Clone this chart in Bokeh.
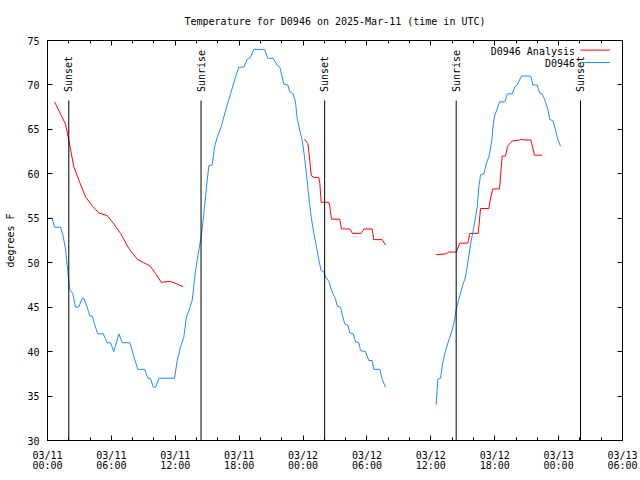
import numpy as np
import pandas as pd
from math import pi
from bokeh.plotting import figure
from bokeh.models import (Range1d, LinearAxis, FixedTicker, DatetimeTickFormatter)
from bokeh.core.properties import value
from bokeh.embed import file_html
from bokeh.resources import INLINE

# ---------------- data (hours after 2025-03-11 00:00 UTC, degrees F) ----------------
BASE = "2025-03-11 00:00"
X_START_H, X_END_H = 0, 54
Y_MIN, Y_MAX = 30, 75

obs_hours_1 = [0.0, 0.44, 0.66, 1.22, 1.47, 1.69, 1.91, 2.09, 2.38, 2.63, 2.94, 3.26, 3.41,
               3.73, 3.97, 4.20, 4.44, 4.72, 5.23, 5.61, 5.92, 6.23, 6.70, 7.02, 7.73, 8.10,
               8.48, 9.14, 9.42, 9.67, 9.93, 10.17, 10.45, 11.93, 12.18, 12.49, 12.80, 13.05,
               13.34, 13.59, 13.90, 14.21, 14.43, 14.68, 14.93, 15.15, 15.47, 15.68, 15.94,
               16.31, 16.72, 17.19, 17.66, 17.97, 18.44, 18.76, 19.06, 19.37, 20.38, 20.69,
               21.20, 21.57, 21.82, 22.19, 22.57, 22.76, 23.07, 23.29, 23.45, 23.69, 23.92,
               24.14, 24.32, 24.54, 24.77, 25.01, 25.26, 25.48, 25.70, 25.95, 26.11, 26.42,
               26.74, 27.05, 27.21, 27.52, 27.73, 27.92, 28.20, 28.39, 28.71, 28.93, 29.24,
               29.40, 29.87, 30.17, 30.49, 30.64, 31.21, 31.43, 31.74]
obs_temp_1 = [55, 55, 54, 54, 53, 51.5, 49, 47, 46.5, 45, 45, 46, 46,
              45, 44, 44, 43, 42, 42, 41, 41, 40, 42, 41, 41, 39.5,
              38, 38, 37, 37, 36, 36, 37, 37, 39, 40.5, 41.6, 43.9,
              44.8, 45.8, 49.1, 51.4, 52.9, 55.5, 58.5, 60.9, 61, 63, 64.1,
              65.3, 67.1, 69, 70.9, 72, 72, 72.9, 73.1, 74, 74, 73,
              73, 72.2, 72, 70.1, 70, 69.2, 69, 68.1, 66.2, 64.9, 63.8,
              61.9, 60, 57.4, 55.1, 53.3, 51.8, 50.3, 49.1, 49, 48.4, 47.9,
              46.7, 45.9, 45.1, 45, 43.9, 43.1, 43, 42.1, 42, 41.1, 41,
              40.1, 40, 39, 39, 38, 38, 36.9, 36]
obs_hours_2 = [36.50, 36.65, 36.91, 37.12, 37.38, 37.69, 38.01, 38.25, 38.38, 38.63, 38.95,
               39.26, 39.51, 39.73, 40.04, 40.36, 40.51, 40.67, 40.98, 41.20, 41.45, 41.60,
               41.76, 41.86, 42.01, 42.23, 42.45, 42.95, 43.17, 43.64, 43.89, 44.11, 44.52,
               45.39, 45.58, 45.99, 46.21, 46.46, 46.77, 47.02, 47.17, 47.46, 47.71, 47.92,
               48.18]
obs_temp_2 = [34, 36.9, 37, 38.8, 40.1, 41.3, 42.4, 43.7, 44.8, 45.9, 47.3,
              48.4, 50.3, 52.1, 54, 56.3, 58.5, 59.9, 60, 61.1, 61.9, 62.8,
              64.1, 65.6, 66.6, 67.3, 68.1, 68.1, 69, 69, 69.8, 70, 71,
              71, 70, 70, 69.1, 69, 68.1, 67.1, 66.1, 66, 64.9, 63.9,
              63.1]

ana_hours_1 = [0.66, 1.69, 2.00, 2.47, 2.94, 3.57, 4.20, 4.82, 5.61, 6.08, 6.86, 7.64,
               8.42, 9.04, 9.67, 10.14, 10.68, 11.55, 12.18, 12.74]
ana_temp_1 = [68.1, 65.6, 63.8, 60.8, 59.3, 57.4, 56.4, 55.6, 55.3, 54.6, 53.3, 51.6,
              50.4, 50.0, 49.6, 48.8, 47.8, 47.9, 47.6, 47.3]
ana_hours_2 = [24.14, 24.45, 24.54, 24.63, 24.77, 25.01, 25.48, 25.58, 25.70, 26.42, 26.51,
               26.67, 27.45, 27.61, 28.39, 28.64, 29.46, 29.71, 30.49, 30.64, 31.43, 31.74]
ana_temp_2 = [63.9, 63.4, 62.6, 61.5, 59.8, 59.6, 59.6, 58.9, 56.8, 56.8, 56.3,
              54.9, 54.9, 53.8, 53.8, 53.3, 53.3, 53.8, 53.8, 52.6, 52.6, 52.0]
ana_hours_3 = [36.50, 37.44, 37.69, 38.38, 38.72, 39.47, 39.66, 40.45, 40.67, 41.45, 41.60,
               41.82, 42.45, 42.70, 43.01, 43.20, 43.64, 44.33, 44.52, 44.73, 45.39, 45.58,
               45.72, 46.46]
ana_temp_3 = [50.9, 51.0, 51.2, 51.2, 52.2, 52.2, 53.3, 53.3, 56.1, 56.1, 57.2,
              58.3, 58.3, 62.0, 62.0, 63.1, 63.7, 63.8, 63.9, 63.8, 63.8, 62.9,
              62.1, 62.1]

sun_hours = [2.00, 14.42, 26.03, 38.38, 50.06]
sun_labels = ["Sunset", "Sunrise", "Sunset", "Sunrise", "Sunset"]

y_ticks = [30, 35, 40, 45, 50, 55, 60, 65, 70, 75]
x_major_step_h = 6
x_minor_step_h = 2

series_names = ["D0946 Analysis", "D0946"]
series_colors = ["#ff0000", "#1e8cff"]

TITLE = "Temperature for D0946 on 2025-Mar-11 (time in UTC)"
FONT = "DejaVu Sans Mono"

# ---------------- helpers ----------------
base_ms = pd.Timestamp(BASE).value / 1e6
H = 3600000.0


def ms(hours):
    return [base_ms + h * H for h in hours]


def join(*segs):
    xs, ys = [], []
    for i in range(0, len(segs), 2):
        if xs:
            xs.append(np.nan)
            ys.append(np.nan)
        xs += ms(segs[i])
        ys += list(segs[i + 1])
    return np.array(xs, dtype=float), np.array(ys, dtype=float)


obs_x, obs_y = join(obs_hours_1, obs_temp_1, obs_hours_2, obs_temp_2)
ana_x, ana_y = join(ana_hours_1, ana_temp_1, ana_hours_2, ana_temp_2, ana_hours_3, ana_temp_3)

x0, x1 = base_ms + X_START_H * H, base_ms + X_END_H * H

p = figure(x_axis_type="datetime",
           x_range=Range1d(x0, x1), y_range=Range1d(Y_MIN, Y_MAX),
           width=640, height=480,
           min_border_left=47, min_border_right=18, min_border_top=40, min_border_bottom=40,
           output_backend="svg", toolbar_location=None,
           background_fill_color="white", border_fill_color="white")
p.xgrid.visible = False
p.ygrid.visible = False
p.outline_line_color = "black"
p.outline_line_alpha = 1.0
p.outline_line_width = 1

p.title.text = TITLE
p.title.align = "center"
p.title.text_font = FONT
p.title.text_font_size = "10px"
p.title.text_font_style = "normal"
p.title.text_color = "black"
p.title.standoff = 27

major_x = ms(range(X_START_H, X_END_H + 1, x_major_step_h))
minor_x = ms(range(X_START_H, X_END_H + 1, x_minor_step_h))
xticker = FixedTicker(ticks=major_x, minor_ticks=minor_x)
yticker = FixedTicker(ticks=y_ticks, minor_ticks=[])
fmt = "%m/%d\n%H:%M"
xfmt = DatetimeTickFormatter(microseconds=fmt, milliseconds=fmt, seconds=fmt, minsec=fmt,
                             minutes=fmt, hourmin=fmt, hours=fmt, days=fmt, months=fmt, years=fmt)


def style(ax, labels=True):
    ax.axis_line_color = "black"
    ax.major_tick_line_color = "black"
    ax.minor_tick_line_color = "black"
    ax.major_tick_in = 5
    ax.major_tick_out = 0
    ax.minor_tick_in = 3
    ax.minor_tick_out = 0
    ax.major_label_text_font = FONT
    if labels:
        ax.major_label_text_font_size = "10px"
        ax.major_label_text_color = "black"
    else:
        ax.major_label_text_font_size = "0px"
        ax.major_label_text_color = None
        ax.major_label_standoff = 0


xa = p.xaxis[0]
xa.ticker = xticker
xa.formatter = xfmt
style(xa)
xa.major_label_standoff = 9
xa.major_label_text_line_height = 0.92

ya = p.yaxis[0]
ya.ticker = yticker
style(ya)
ya.major_label_standoff = 8
ya.axis_label = "degrees F"
ya.axis_label_text_font = FONT
ya.axis_label_text_font_size = "10px"
ya.axis_label_text_font_style = "normal"
ya.axis_label_text_color = "black"
ya.axis_label_standoff = 8

top = LinearAxis(ticker=xticker)
style(top, labels=False)
p.add_layout(top, "above")
right = LinearAxis(ticker=yticker)
style(right, labels=False)
p.add_layout(right, "right")

# data lines
p.line(ana_x, ana_y, line_color=series_colors[0], line_width=1)
p.line(obs_x, obs_y, line_color=series_colors[1], line_width=1)

# sunrise / sunset markers
yspan = Y_MAX - Y_MIN
sun_x = ms(sun_hours)
p.segment(x0=sun_x, y0=[Y_MIN] * len(sun_x), x1=sun_x, y1=[Y_MIN + 0.85 * yspan] * len(sun_x),
          line_color="black", line_width=1)
p.text(x=sun_x, y=[Y_MIN + 0.871 * yspan] * len(sun_x), text=sun_labels, angle=pi / 2,
       text_align="left", text_baseline="middle", text_font=value(FONT),
       text_font_size="10px", text_color="black")

# key (text on the left, line sample on the right)
xspan = x1 - x0
key_text_x = x0 + 0.9174 * xspan
key_line_x0 = x0 + 0.927 * xspan
key_line_x1 = x0 + 0.978 * xspan
key_rows = [0.973, 0.942]
p.text(x=[key_text_x] * 2, y=[Y_MIN + r * yspan for r in key_rows], text=series_names,
       text_align="right", text_baseline="middle", text_font=value(FONT),
       text_font_size="10px", text_color="black")
p.segment(x0=[key_line_x0] * 2, y0=[Y_MIN + (r + 0.003) * yspan for r in key_rows],
          x1=[key_line_x1] * 2, y1=[Y_MIN + (r + 0.003) * yspan for r in key_rows],
          line_color=series_colors, line_width=1)

with open("out.html", "w") as f:
    f.write(file_html(p, INLINE))
